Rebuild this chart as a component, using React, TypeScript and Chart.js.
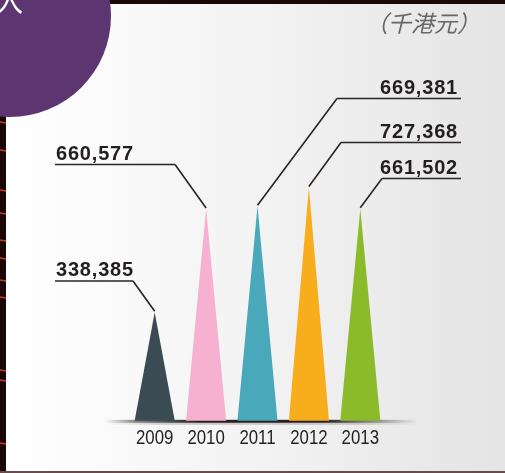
import React, { useEffect, useRef } from 'react';
import { Chart, registerables } from 'chart.js';

Chart.register(...registerables);

// ---- data ----
const years = ['2009', '2010', '2011', '2012', '2013'];
const revenue = [338385, 660577, 669381, 727368, 661502];
const valueLabels = ['338,385', '660,577', '669,381', '727,368', '661,502'];
const barColors = ['#3b4b53', '#f5b1cf', '#49a8b9', '#f8ad1d', '#8bbb2b'];
const unitLabel = '（千港元）';
const cornerChar = '入';

// ---- label callout layout (pixels) ----
const calloutLayout = [
  { side: 'left', lineY: 281, x1: 55, x2: 133 },
  { side: 'left', lineY: 164.5, x1: 55, x2: 175 },
  { side: 'right', lineY: 98.5, x1: 337, x2: 461 },
  { side: 'right', lineY: 142.5, x1: 341, x2: 461 },
  { side: 'right', lineY: 178.5, x1: 382, x2: 461 },
];
const streaks = [122, 150, 190, 213, 240, 258, 280, 297, 370, 380, 443];

const W = 505;
const H = 473;
const TICK_SQUEEZE = 0.8;

const decorPlugin = {
  id: 'decor',
  afterLayout(chart: any) {
    const sc: any = chart.scales.x;
    if (sc.__patched) return;
    sc.__patched = true;
    const orig = sc.drawLabels;
    sc.drawLabels = function (area: any) {
      const items = this.getLabelItems(area);
      const saved = items.map((it: any) => it.options.translation[0]);
      items.forEach((it: any) => {
        it.options.translation[0] = it.options.translation[0] / TICK_SQUEEZE;
      });
      this.ctx.save();
      this.ctx.scale(TICK_SQUEEZE, 1);
      orig.call(this, area);
      this.ctx.restore();
      items.forEach((it: any, i: number) => {
        it.options.translation[0] = saved[i];
      });
    };
  },
  beforeDraw(chart: any) {
    const ctx: CanvasRenderingContext2D = chart.ctx;
    ctx.save();
    ctx.fillStyle = '#1c0707';
    ctx.fillRect(0, 0, W, H);
    const g = ctx.createLinearGradient(6, 0, W, 0);
    g.addColorStop(0, '#ffffff');
    g.addColorStop(0.5, '#f3f3f3');
    g.addColorStop(1, '#e4e4e4');
    ctx.fillStyle = g;
    ctx.fillRect(6, 4, W - 6, 467);
    ctx.fillStyle = '#6b4a4a';
    ctx.fillRect(0, 471, W, 2);
    ctx.strokeStyle = 'rgba(225,70,50,0.85)';
    ctx.lineWidth = 1.5;
    streaks.forEach((y) => {
      ctx.beginPath();
      ctx.moveTo(0, y);
      ctx.lineTo(6, y + 1);
      ctx.stroke();
    });
    ctx.fillStyle = '#5c3571';
    ctx.beginPath();
    ctx.arc(10, 16, 101, 0, Math.PI * 2);
    ctx.fill();
    ctx.fillStyle = '#ffffff';
    ctx.font = '28px "Noto Sans CJK SC", sans-serif';
    ctx.textAlign = 'center';
    ctx.textBaseline = 'alphabetic';
    ctx.fillText(cornerChar, 9, 12);
    ctx.fillStyle = '#666666';
    ctx.font = 'italic 23px "Noto Sans CJK SC", sans-serif';
    ctx.textAlign = 'right';
    ctx.textBaseline = 'middle';
    ctx.fillText(unitLabel, 480, 23);
    ctx.restore();
  },
  beforeDatasetsDraw(chart: any) {
    const ctx: CanvasRenderingContext2D = chart.ctx;
    const base = chart.scales.y.getPixelForValue(0);
    ctx.save();
    const g = ctx.createLinearGradient(105, 0, 418, 0);
    g.addColorStop(0, 'rgba(40,30,30,0)');
    g.addColorStop(0.1, 'rgba(40,30,30,0.55)');
    g.addColorStop(0.3, 'rgba(30,20,20,0.95)');
    g.addColorStop(0.7, 'rgba(30,20,20,0.95)');
    g.addColorStop(0.88, 'rgba(40,30,30,0.4)');
    g.addColorStop(1, 'rgba(40,30,30,0)');
    ctx.fillStyle = g;
    ctx.fillRect(105, base - 1, 313, 3);
    const g2 = ctx.createLinearGradient(105, 0, 418, 0);
    g2.addColorStop(0, 'rgba(120,120,120,0)');
    g2.addColorStop(0.2, 'rgba(120,120,120,0.35)');
    g2.addColorStop(0.8, 'rgba(120,120,120,0.35)');
    g2.addColorStop(1, 'rgba(120,120,120,0)');
    ctx.fillStyle = g2;
    ctx.fillRect(105, base + 2, 313, 2);
    ctx.restore();
  },
  afterDatasetsDraw(chart: any) {
    const ctx: CanvasRenderingContext2D = chart.ctx;
    const meta = chart.getDatasetMeta(0);
    ctx.save();
    meta.data.forEach((el: any, i: number) => {
      const { x, y, base, width } = el.getProps(['x', 'y', 'base', 'width'], true);
      ctx.fillStyle = barColors[i];
      ctx.beginPath();
      ctx.moveTo(x - width / 2, base);
      ctx.lineTo(x, y);
      ctx.lineTo(x + width / 2, base);
      ctx.closePath();
      ctx.fill();
    });
    ctx.restore();
  },
  afterDraw(chart: any) {
    const ctx: CanvasRenderingContext2D = chart.ctx;
    const meta = chart.getDatasetMeta(0);
    ctx.save();
    ctx.strokeStyle = '#2a2424';
    ctx.lineWidth = 1.6;
    ctx.fillStyle = '#231f20';
    ctx.font = 'bold 20px "Liberation Sans", Arial, sans-serif';
    (ctx as any).letterSpacing = '0.8px';
    ctx.textBaseline = 'alphabetic';
    meta.data.forEach((el: any, i: number) => {
      const L = calloutLayout[i];
      const elbowX = L.side === 'left' ? L.x2 : L.x1;
      ctx.beginPath();
      ctx.moveTo(L.x1, L.lineY);
      ctx.lineTo(L.x2, L.lineY);
      ctx.moveTo(elbowX, L.lineY);
      ctx.lineTo(el.x, el.y - 1);
      ctx.stroke();
      if (L.side === 'left') {
        ctx.textAlign = 'left';
        ctx.fillText(valueLabels[i], L.x1 + 1, L.lineY - 5);
      } else {
        ctx.textAlign = 'right';
        ctx.fillText(valueLabels[i], L.x2 - 3, L.lineY - 5);
      }
    });
    ctx.restore();
  },
};

export default function App() {
  const ref = useRef<HTMLCanvasElement | null>(null);
  useEffect(() => {
    document.body.style.margin = '0';
    if (!ref.current) return;
    const chart = new Chart(ref.current, {
      type: 'bar',
      data: {
        labels: years,
        datasets: [
          {
            data: revenue,
            backgroundColor: 'rgba(0,0,0,0)',
            borderWidth: 0,
            categoryPercentage: 1,
            barPercentage: 0.78,
          },
        ],
      },
      options: {
        animation: false,
        responsive: false,
        devicePixelRatio: 1,
        layout: { padding: { left: 129, right: 119, top: 4, bottom: 17 } },
        plugins: { legend: { display: false }, tooltip: { enabled: false }, title: { display: false } },
        scales: {
          x: {
            grid: { display: false, drawTicks: false },
            border: { display: false },
            ticks: {
              padding: 5,
              autoSkip: false,
              minRotation: 0,
              maxRotation: 0,
              color: '#231f20',
              font: { family: '"Liberation Sans", sans-serif', size: 21 },
            },
          },
          y: {
            display: false,
            min: 0,
            max: 1300000,
          },
        },
      },
      plugins: [decorPlugin],
    });
    return () => chart.destroy();
  }, []);
  return (
    <div style={{ position: 'absolute', left: 0, top: 0, width: W, height: H }}>
      <canvas ref={ref} width={W} height={H} />
    </div>
  );
}
